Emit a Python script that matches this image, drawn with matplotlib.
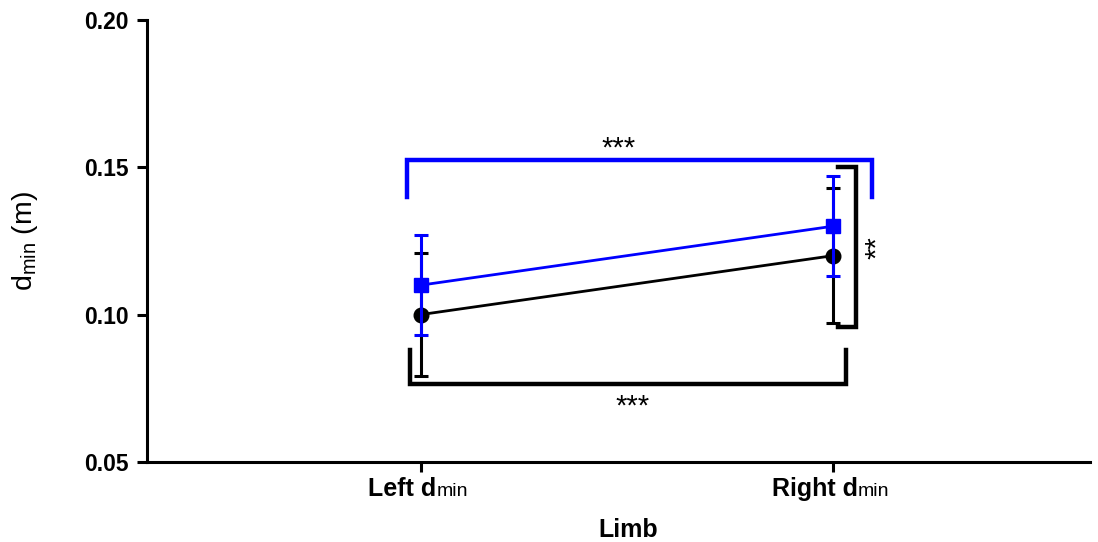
import matplotlib
matplotlib.use("Agg")
import matplotlib.pyplot as plt
from matplotlib.offsetbox import TextArea, HPacker, AnnotationBbox

plt.rcParams['font.family'] = ['Liberation Sans', 'DejaVu Sans']
plt.rcParams['mathtext.fontset'] = 'custom'
plt.rcParams['mathtext.rm'] = 'Liberation Sans'
plt.rcParams['mathtext.bf'] = 'Liberation Sans:bold'

categories = ["Left", "Right"]
black_mean = [0.100, 0.120]
black_err = [0.021, 0.023]
blue_mean = [0.110, 0.130]
blue_err = [0.017, 0.017]
yticks = [0.05, 0.10, 0.15, 0.20]
ytick_labels = ["0.05", "0.10", "0.15", "0.20"]

fig = plt.figure(figsize=(10.98, 5.42), dpi=100)
ax = fig.add_axes([0.134, 0.148, 0.859, 0.815])

x = list(range(len(categories)))
ax.errorbar(x, black_mean, yerr=black_err, color='black', marker='o', ms=10.5,
            lw=2, elinewidth=2.2, capsize=5, capthick=2.2, zorder=3)
ax.errorbar(x, blue_mean, yerr=blue_err, color='#0000FF', marker='s', ms=10,
            lw=2, elinewidth=2.2, capsize=5, capthick=2.2, zorder=4)

ax.set_xlim(-0.665, 1.624)
ax.set_ylim(0.05, 0.20)
ax.set_yticks(yticks)
ax.set_yticklabels(ytick_labels, fontsize=16.5, fontweight='bold')
ax.set_xticks(x)
ax.set_xticklabels(["", ""])
for s in ['top', 'right']:
    ax.spines[s].set_visible(False)
for s in ['left', 'bottom']:
    ax.spines[s].set_linewidth(2.2)
ax.tick_params(axis='both', direction='out', length=7, width=2.2)
ax.tick_params(axis='y', pad=6)

# x tick labels: bold name + small regular "min", centred under the tick
for xi, name in zip(x, categories):
    box = HPacker(children=[
        TextArea(name + " d", textprops=dict(fontsize=18, fontweight='bold')),
        TextArea("min", textprops=dict(fontsize=14)),
    ], align="baseline", pad=0, sep=0)
    ab = AnnotationBbox(box, (xi, 0), xycoords=('data', 'axes fraction'),
                        xybox=(-2, -11), boxcoords='offset points',
                        box_alignment=(0.5, 1), frameon=False,
                        annotation_clip=False)
    ax.add_artist(ab)

ax.set_xlabel("Limb", fontsize=18, fontweight='bold')
ax.xaxis.set_label_coords(0.51, -0.128)
ax.set_ylabel(r"d$_{\mathregular{min}}$ (m)", fontsize=20.5, labelpad=32)

# significance brackets
blw = 3.2
ax.plot([-0.034, -0.034, 1.095, 1.095], [0.1398, 0.1524, 0.1524, 0.1398],
        color='#0000FF', lw=blw, solid_joinstyle='miter', clip_on=False)
ax.text(0.478, 0.1535, "***", ha='center', va='baseline', fontsize=21)

ax.plot([-0.027, -0.027, 1.032, 1.032], [0.0881, 0.0765, 0.0765, 0.0881],
        color='black', lw=blw, solid_joinstyle='miter', clip_on=False)
ax.text(0.512, 0.0659, "***", ha='center', va='baseline', fontsize=21)

ax.plot([1.012, 1.056, 1.056, 1.012], [0.1500, 0.1500, 0.0959, 0.0959],
        color='black', lw=blw, solid_joinstyle='miter', clip_on=False)
ax.text(1.126, 0.1228, "**", ha='center', va='baseline', rotation=90,
        rotation_mode='anchor', fontsize=21)

fig.savefig("out.png", dpi=100)
